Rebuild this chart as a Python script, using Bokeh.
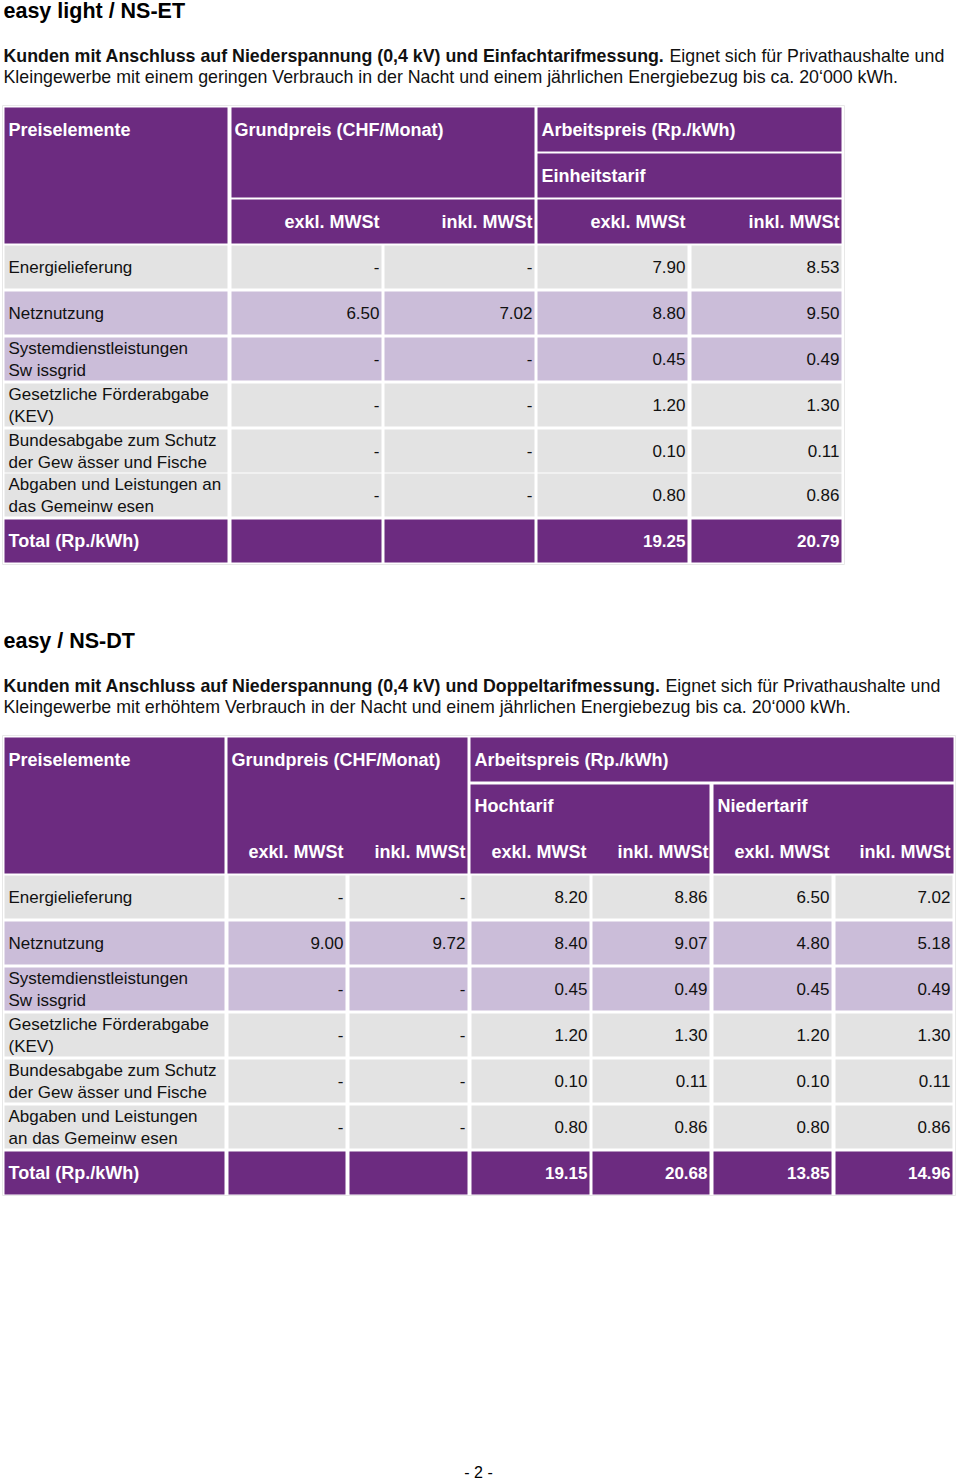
from bokeh.plotting import figure
from bokeh.models import Range1d
from bokeh.core.properties import value
from bokeh.embed import file_html
from bokeh.resources import INLINE

# ---------------- data ----------------
title_1 = "easy light / NS-ET"
intro_1_bold = "Kunden mit Anschluss auf Niederspannung (0,4 kV) und Einfachtarifmessung."
intro_1_rest = "Eignet sich für Privathaushalte und"
intro_1_line2 = "Kleingewerbe mit einem geringen Verbrauch in der Nacht und einem jährlichen Energiebezug bis ca. 20‘000 kWh."

title_2 = "easy / NS-DT"
intro_2_bold = "Kunden mit Anschluss auf Niederspannung (0,4 kV) und Doppeltarifmessung."
intro_2_rest = "Eignet sich für Privathaushalte und"
intro_2_line2 = "Kleingewerbe mit erhöhtem Verbrauch in der Nacht und einem jährlichen Energiebezug bis ca. 20‘000 kWh."

row_labels_1 = [["Energielieferung"], ["Netznutzung"],
                ["Systemdienstleistungen", "Sw issgrid"],
                ["Gesetzliche Förderabgabe", "(KEV)"],
                ["Bundesabgabe zum Schutz", "der Gew ässer und Fische"],
                ["Abgaben und Leistungen an", "das Gemeinw esen"]]
row_labels_2 = [["Energielieferung"], ["Netznutzung"],
                ["Systemdienstleistungen", "Sw issgrid"],
                ["Gesetzliche Förderabgabe", "(KEV)"],
                ["Bundesabgabe zum Schutz", "der Gew ässer und Fische"],
                ["Abgaben und Leistungen", "an das Gemeinw esen"]]
row_shade = ["grey", "lilac", "lilac", "grey", "grey", "grey"]
total_label = "Total (Rp./kWh)"

# table 1 values (None = "-")
t1_grund_exkl = [None, 6.50, None, None, None, None]
t1_grund_inkl = [None, 7.02, None, None, None, None]
t1_arbeit_exkl = [7.90, 8.80, 0.45, 1.20, 0.10, 0.80]
t1_arbeit_inkl = [8.53, 9.50, 0.49, 1.30, 0.11, 0.86]
t1_totals = [None, None, 19.25, 20.79]

# table 2 values
t2_grund_exkl = [None, 9.00, None, None, None, None]
t2_grund_inkl = [None, 9.72, None, None, None, None]
t2_hoch_exkl = [8.20, 8.40, 0.45, 1.20, 0.10, 0.80]
t2_hoch_inkl = [8.86, 9.07, 0.49, 1.30, 0.11, 0.86]
t2_nieder_exkl = [6.50, 4.80, 0.45, 1.20, 0.10, 0.80]
t2_nieder_inkl = [7.02, 5.18, 0.49, 1.30, 0.11, 0.86]
t2_totals = [None, None, 19.15, 20.68, 13.85, 14.96]

headers_1 = ["Preiselemente", "Grundpreis (CHF/Monat)", "Arbeitspreis (Rp./kWh)", "Einheitstarif"]
headers_2 = ["Preiselemente", "Grundpreis (CHF/Monat)", "Arbeitspreis (Rp./kWh)", "Hochtarif", "Niedertarif"]
sub_headers = ["exkl. MWSt", "inkl. MWSt"]
footer = "- 2 -"

# ---------------- style ----------------
PURPLE = "#6C2B80"
LILAC = "#CBBDD9"
GREY = "#E3E3E3"
FONT = value("Liberation Sans")
SHADES = {"grey": GREY, "lilac": LILAC}
W, H = 958, 1481

p = figure(width=W, height=H, output_backend="svg", toolbar_location=None,
           x_range=Range1d(0, W), y_range=Range1d(H, 0),
           x_axis_location=None, y_axis_location=None, min_border=0)
p.grid.visible = False
p.outline_line_color = None
p.background_fill_color = "white"


def box(l, r, t, b, color):
    p.quad(left=[l], right=[r], top=[t], bottom=[b], fill_color=color, line_color=None)


def txt(x, y, s, align="left", bold=False, color="#111111", size="17px"):
    p.text(x=[x], y=[y], text=[s], text_align=align, text_baseline="middle",
           text_font=FONT, text_font_size=size, text_color=color,
           text_font_style="bold" if bold else "normal")


def hdr(x, y, s, align="left"):
    txt(x, y, s, align=align, bold=True, color="white", size="18px")


def fmt(v):
    return "-" if v is None else "%.2f" % v


def intro(y0, title, bold, rest, rest_x, line2):
    txt(3, y0, title, bold=True, size="21.5px", color="#000000")
    txt(3, y0 + 45, bold, bold=True, size="17.8px", color="#111111")
    txt(rest_x, y0 + 45, rest, size="17.8px")
    txt(3, y0 + 66, line2, size="17.8px")


def body(cols, tops, height, labels, columns, totals, total_top, total_h):
    for i, top in enumerate(tops):
        shade = SHADES[row_shade[i]]
        for (l, r) in cols:
            box(l, r, top, top + height, shade)
        lab = labels[i]
        if len(lab) == 1:
            txt(8, top + height / 2, lab[0])
        else:
            txt(8, top + 11, lab[0])
            txt(8, top + 33, lab[1])
        for j, series in enumerate(columns):
            txt(cols[j + 1][1] - 2, top + height / 2, fmt(series[i]), align="right")
    for (l, r) in cols:
        box(l, r, total_top, total_top + total_h, PURPLE)
    hdr(8, total_top + total_h / 2, total_label)
    for j, v in enumerate(totals):
        if v is not None:
            txt(cols[j + 1][1] - 2, total_top + total_h / 2, fmt(v), align="right",
                bold=True, color="white", size="17px")


# ---------------- table 1 ----------------
intro(10, title_1, intro_1_bold, intro_1_rest, 669, intro_1_line2)
p.quad(left=[2], right=[844], top=[105], bottom=[564], fill_color=None, line_color="#E8E8E8", line_width=1)
box(4, 227, 107, 243, PURPLE)
box(231, 534, 107, 197, PURPLE)
box(231, 534, 199, 243, PURPLE)
box(537, 841, 107, 151, PURPLE)
box(537, 841, 153, 197, PURPLE)
box(537, 841, 199, 243, PURPLE)
hdr(8, 129, headers_1[0])
hdr(234, 129, headers_1[1])
hdr(541, 129, headers_1[2])
hdr(541, 175, headers_1[3])
for xr, s in zip([379, 532, 685, 839], sub_headers * 2):
    hdr(xr, 221, s, align="right")

cols1 = [(4, 227), (231, 381), (384, 534), (537, 687), (691, 841)]
body(cols1, [245, 291, 337, 383, 429, 473], 43, row_labels_1,
     [t1_grund_exkl, t1_grund_inkl, t1_arbeit_exkl, t1_arbeit_inkl], t1_totals, 519, 43)

# ---------------- table 2 ----------------
intro(640, title_2, intro_2_bold, intro_2_rest, 665, intro_2_line2)
p.quad(left=[2], right=[955], top=[735], bottom=[1195], fill_color=None, line_color="#E8E8E8", line_width=1)
box(4, 224, 737, 873, PURPLE)
box(227, 467, 737, 873, PURPLE)
box(470, 953, 737, 781, PURPLE)
box(470, 709, 784, 873, PURPLE)
box(713, 953, 784, 873, PURPLE)
hdr(8, 759, headers_2[0])
hdr(231, 759, headers_2[1])
hdr(474, 759, headers_2[2])
hdr(474, 805, headers_2[3])
hdr(717, 805, headers_2[4])
for xr, s in zip([343, 465, 586, 708, 829, 950], sub_headers * 3):
    hdr(xr, 851, s, align="right")

cols2 = [(4, 224), (228, 345), (349, 467), (471, 589), (592, 709), (713, 831), (835, 952)]
body(cols2, [875, 921, 967, 1013, 1059, 1105], 43, row_labels_2,
     [t2_grund_exkl, t2_grund_inkl, t2_hoch_exkl, t2_hoch_inkl, t2_nieder_exkl, t2_nieder_inkl],
     t2_totals, 1151, 43)

txt(478, 1472, footer, align="center", size="16px", color="#000000")

open("out.html", "w").write(file_html(p, INLINE))
